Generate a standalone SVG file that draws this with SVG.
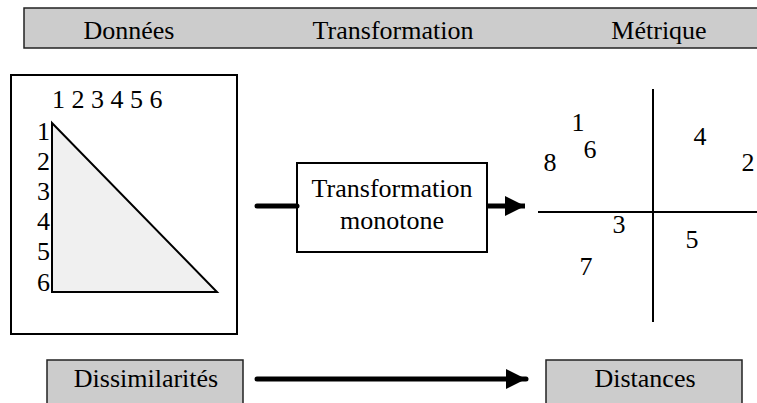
<svg xmlns="http://www.w3.org/2000/svg" width="757" height="403" viewBox="0 0 757 403">
<style>
text{font-family:"Liberation Serif","Times New Roman",Times,serif;font-size:26px;fill:#000}
.gray{fill:#cccccc;stroke:#222;stroke-width:1.5}
.box{fill:#fff;stroke:#000;stroke-width:2}
.mid{text-anchor:middle}
.end{text-anchor:end}
.ax{stroke:#000;stroke-width:2;fill:none}
</style>
<defs>
<marker id="ah" viewBox="0 0 10 10" refX="10" refY="5" markerWidth="4" markerHeight="4.8" orient="auto" markerUnits="strokeWidth">
<path d="M0,0 L10,5 L0,10 Z" fill="#000"/>
</marker>
</defs>
<rect x="0" y="0" width="757" height="403" fill="#fff"/>
<g id="header">
<rect class="gray" x="24" y="8" width="740" height="40"/>
<text class="mid" x="129" y="39">Données</text>
<text class="mid" x="393" y="39">Transformation</text>
<text class="mid" x="659" y="39">Métrique</text>
</g>
<g id="donnees">
<rect class="box" x="11" y="75" width="226" height="259"/>
<polygon points="52,123 52,292 217,292" fill="#f0f0f0" stroke="#000" stroke-width="2"/>
<text x="52" y="108">1 2 3 4 5 6</text>
<text class="end" x="50" y="140">1</text>
<text class="end" x="50" y="170">2</text>
<text class="end" x="50" y="200">3</text>
<text class="end" x="50" y="230">4</text>
<text class="end" x="50" y="260">5</text>
<text class="end" x="50" y="291">6</text>
</g>
<g id="transfo">
<rect class="box" x="297" y="163" width="190" height="89" stroke-width="1.5"/>
<text class="mid" x="392" y="197">Transformation</text>
<text class="mid" x="392" y="229">monotone</text>
</g>
<g id="metrique">
<line class="ax" x1="653" y1="89" x2="653" y2="322"/>
<line class="ax" x1="538" y1="212" x2="757" y2="212"/>
<text class="mid" x="578" y="131">1</text>
<text class="mid" x="590" y="158">6</text>
<text class="mid" x="550" y="171">8</text>
<text class="mid" x="700" y="145">4</text>
<text class="mid" x="748" y="171">2</text>
<text class="mid" x="619" y="233">3</text>
<text class="mid" x="692" y="248">5</text>
<text class="mid" x="586" y="275">7</text>
</g>
<g id="dissimilarites">
<rect class="gray" x="47" y="360" width="196" height="50"/>
<text class="mid" x="146" y="387">Dissimilarités</text>
</g>
<g id="distances">
<rect class="gray" x="546" y="360" width="196" height="50"/>
<text class="mid" x="645" y="387">Distances</text>
</g>
<g id="connectors">
<line x1="257" y1="206" x2="297" y2="206" stroke="#000" stroke-width="5" stroke-linecap="round"/>
<line x1="487" y1="206" x2="525" y2="206" stroke="#000" stroke-width="5" marker-end="url(#ah)"/>
<line x1="257" y1="379" x2="526" y2="379" stroke="#000" stroke-width="5" stroke-linecap="round" marker-end="url(#ah)"/>
</g>
</svg>
